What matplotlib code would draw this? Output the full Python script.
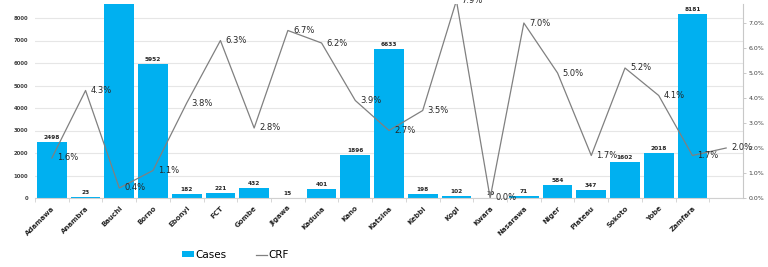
import matplotlib
matplotlib.use("Agg")
import matplotlib.pyplot as plt
import numpy as np
from matplotlib.lines import Line2D
from matplotlib.patches import Patch

states = ["Adamawa", "Anambra", "Bauchi", "Borno", "Ebonyi", "FCT", "Gombe", "Jigawa",
          "Kaduna", "Kano", "Katsina", "Kebbi", "Kogi", "Kwara", "Nasarawa", "Niger",
          "Plateau", "Sokoto", "Yobe", "Zamfara", ""]
cases = [2498, 23, 9000, 5952, 182, 221, 432, 15, 401, 1896, 6633, 198, 102, 10, 71,
         584, 347, 1602, 2018, 8181, np.nan]
crf = [1.6, 4.3, 0.4, 1.1, 3.8, 6.3, 2.8, 6.7, 6.2, 3.9, 2.7, 3.5, 7.9, 0.0, 7.0,
       5.0, 1.7, 5.2, 4.1, 1.7, 2.0]

BLUE = "#00B0F0"
GRAY = "#808080"

fig = plt.figure(figsize=(7.68, 2.67), dpi=100)
ax = fig.add_axes([35/768, 1-198/267, (743-35)/768, (198-4)/267])
x = np.arange(len(states))
ax.bar(x, cases, width=0.88, color=BLUE, zorder=2)
ymax = 194/22.5*1000
ax.set_ylim(0, ymax)
ax.set_xlim(-0.5, len(states)-0.5)
ax.set_yticks(np.arange(0, 8001, 1000))
ax.set_yticklabels([str(v) for v in range(0, 8001, 1000)], fontsize=3.8, fontweight="bold", color="#404040")
ax.grid(axis="y", color="#E6E6E6", linewidth=0.8, zorder=0)
ax.set_axisbelow(True)
ax.tick_params(axis="y", length=0, pad=5)
ax.set_xticks(x)
ax.set_xticklabels(states, rotation=45, ha="right", rotation_mode="anchor",
                   fontsize=5, fontweight="bold", color="#262626")
ax.tick_params(axis="x", length=0, pad=5)
ax.set_xticks(np.arange(-0.5, len(states)-0.5, 1), minor=True)
ax.tick_params(axis="x", which="minor", length=3, color="#D0D0D0", width=0.6)
for s in ["top", "left", "right"]:
    ax.spines[s].set_visible(False)
ax.spines["bottom"].set_color("#D0D0D0")
ax.spines["bottom"].set_linewidth(0.8)

for xi, v in zip(x, cases):
    if np.isnan(v) or v > ymax:
        continue
    ax.text(xi, v + 90, f"{int(v)}", ha="center", va="bottom", fontsize=4.2,
            fontweight="bold", color="#262626")

ax2 = ax.twinx()
ax2.plot(x, crf, color=GRAY, linewidth=0.9, zorder=3)
ax2.set_ylim(0, 194/25)
ax2.set_yticks(np.arange(0, 8, 1))
ax2.set_yticklabels([f"{v:.1f}%" for v in range(0, 8)], fontsize=4.5, color="#404040")
ax2.tick_params(axis="y", length=2, width=0.6, color="#C0C0C0", pad=2)
for s in ["top", "left", "bottom"]:
    ax2.spines[s].set_visible(False)
ax2.spines["right"].set_color("#C8C8C8")
ax2.spines["right"].set_linewidth(0.8)
for xi, v in zip(x, crf):
    ax2.text(xi + 0.15, v, f"{v:.1f}%", ha="left", va="center", fontsize=6,
             color="#262626", clip_on=False, zorder=4)

handles = [Patch(facecolor=BLUE, edgecolor="none"),
           Line2D([0], [0], color=GRAY, linewidth=0.9)]
fig.legend(handles, ["Cases", "CRF"], loc="center", bbox_to_anchor=(0.307, 1-255/267),
           ncol=2, frameon=False, fontsize=7.5, handlelength=1.1, handleheight=0.5,
           handletextpad=0.15, columnspacing=2.8, borderpad=0)

fig.savefig("out.png", dpi=100)
